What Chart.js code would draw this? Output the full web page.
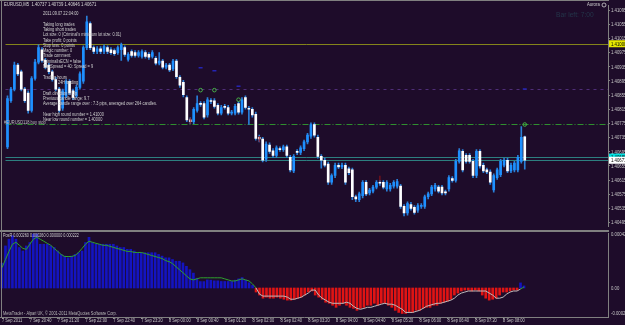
<!DOCTYPE html>
<html>
<head>
<meta charset="utf-8">
<title>EURUSD,M5</title>
<script src="https://cdn.jsdelivr.net/npm/chart.js@4.4.1/dist/chart.umd.min.js"></script>
<style>
  html, body { margin:0; padding:0; background:#1e0c2a; overflow:hidden; }
  #wrap { position:relative; width:625px; height:325px; background:#1e0c2a; }
  canvas { position:absolute; left:0; }
  #mainCanvas { top:0; }
  #indCanvas { top:232px; }
</style>
</head>
<body>
<div id="wrap">
  <canvas id="mainCanvas" width="625" height="232"></canvas>
  <canvas id="indCanvas" width="625" height="93"></canvas>
</div>
<script>
// ---------------- DATA ----------------
const symbolName = 'EURUSD,M5';
const timeTicks = ['7 Sep 2011','7 Sep 20:40','7 Sep 21:20','7 Sep 22:00','7 Sep 22:40','7 Sep 23:20',
  '8 Sep 00:00','8 Sep 00:40','8 Sep 01:20','8 Sep 02:00','8 Sep 02:40','8 Sep 03:20','8 Sep 04:00',
  '8 Sep 04:40','8 Sep 05:20','8 Sep 06:00','8 Sep 06:40','8 Sep 07:20','8 Sep 08:00'];
const barsPerTimeTick = 8;
const priceTicks = [1.41095,1.41055,1.41015,1.40975,1.40935,1.40895,1.40855,1.40815,1.40775,1.40735,
  1.40695,1.40655,1.40615,1.40575,1.40535,1.40495];

const openPrices = [
1.40709,1.40839,1.40872,1.40940,1.40921,1.40872,1.40861,1.40812,1.40902,1.40948,
1.40983,1.40953,1.40940,1.40921,1.40899,1.40872,1.40818,1.40853,1.40894,1.40867,
1.40853,1.40877,1.40894,1.40989,1.41057,1.40989,1.40978,1.40986,1.40978,1.40989,
1.40983,1.40981,1.40975,1.40983,1.40989,1.40956,1.40978,1.40975,1.40967,1.40964,
1.40975,1.40970,1.40964,1.40959,1.40945,1.40951,1.40934,1.40940,1.40929,1.40951,
1.40905,1.40891,1.40848,1.40785,1.40780,1.40812,1.40831,1.40831,1.40799,1.40839,
1.40839,1.40826,1.40804,1.40823,1.40820,1.40804,1.40804,1.40831,1.40807,1.40848,
1.40818,1.40815,1.40801,1.40736,1.40731,1.40674,1.40714,1.40698,1.40685,1.40704,
1.40701,1.40709,1.40679,1.40641,1.40696,1.40693,1.40704,1.40723,1.40739,1.40772,
1.40736,1.40682,1.40671,1.40660,1.40609,1.40628,1.40657,1.40652,1.40657,1.40647,
1.40644,1.40568,1.40560,1.40571,1.40609,1.40579,1.40584,1.40595,1.40609,1.40609,
1.40590,1.40590,1.40598,1.40598,1.40598,1.40541,1.40522,1.40546,1.40538,1.40530,
1.40541,1.40541,1.40568,1.40576,1.40590,1.40595,1.40595,1.40581,1.40590,1.40619,
1.40614,1.40668,1.40696,1.40685,1.40685,1.40668,1.40628,1.40696,1.40657,1.40644,
1.40638,1.40587,1.40622,1.40630,1.40657,1.40671,1.40641,1.40644,1.40644,1.40668,
1.40737];
const highPrices = [
1.40853,1.40877,1.40948,1.40945,1.40926,1.40877,1.40867,1.40907,1.40956,1.40997,
1.40989,1.40959,1.40945,1.40926,1.40905,1.40877,1.40872,1.40899,1.40899,1.40872,
1.40883,1.40921,1.40994,1.41078,1.41062,1.40994,1.40992,1.40992,1.40997,1.40994,
1.40989,1.40986,1.40994,1.41002,1.40994,1.40975,1.40983,1.40981,1.40981,1.40983,
1.40981,1.40975,1.40981,1.40964,1.40975,1.40956,1.40945,1.40945,1.40956,1.40956,
1.40910,1.40897,1.40853,1.40791,1.40820,1.40853,1.40837,1.40837,1.40848,1.40845,
1.40845,1.40831,1.40826,1.40829,1.40826,1.40812,1.40829,1.40837,1.40848,1.40853,
1.40823,1.40820,1.40807,1.40742,1.40736,1.40723,1.40720,1.40704,1.40712,1.40709,
1.40714,1.40714,1.40685,1.40687,1.40701,1.40712,1.40728,1.40747,1.40777,1.40777,
1.40742,1.40687,1.40677,1.40666,1.40633,1.40663,1.40663,1.40663,1.40663,1.40652,
1.40649,1.40573,1.40581,1.40614,1.40614,1.40592,1.40600,1.40614,1.40614,1.40614,
1.40614,1.40606,1.40614,1.40617,1.40603,1.40546,1.40554,1.40552,1.40543,1.40549,
1.40549,1.40573,1.40581,1.40600,1.40606,1.40600,1.40600,1.40587,1.40628,1.40625,
1.40674,1.40704,1.40701,1.40690,1.40690,1.40674,1.40701,1.40701,1.40663,1.40649,
1.40644,1.40633,1.40649,1.40674,1.40677,1.40677,1.40663,1.40668,1.40685,1.40766,
1.40739];
const lowPrices = [
1.40704,1.40834,1.40867,1.40910,1.40867,1.40834,1.40804,1.40807,1.40897,1.40943,
1.40948,1.40929,1.40915,1.40894,1.40867,1.40807,1.40812,1.40848,1.40856,1.40842,
1.40848,1.40872,1.40888,1.40983,1.40983,1.40972,1.40972,1.40972,1.40972,1.40972,
1.40970,1.40967,1.40970,1.40953,1.40964,1.40951,1.40962,1.40962,1.40962,1.40959,
1.40959,1.40956,1.40959,1.40940,1.40940,1.40929,1.40929,1.40921,1.40924,1.40902,
1.40877,1.40850,1.40780,1.40774,1.40774,1.40807,1.40823,1.40788,1.40793,1.40831,
1.40818,1.40799,1.40799,1.40815,1.40799,1.40799,1.40799,1.40801,1.40801,1.40815,
1.40772,1.40793,1.40728,1.40723,1.40666,1.40668,1.40690,1.40679,1.40679,1.40696,
1.40696,1.40679,1.40638,1.40636,1.40687,1.40687,1.40698,1.40717,1.40733,1.40736,
1.40677,1.40649,1.40652,1.40603,1.40603,1.40622,1.40647,1.40647,1.40603,1.40630,
1.40560,1.40554,1.40554,1.40565,1.40571,1.40573,1.40579,1.40590,1.40600,1.40590,
1.40584,1.40584,1.40592,1.40592,1.40535,1.40514,1.40516,1.40530,1.40519,1.40524,
1.40535,1.40535,1.40562,1.40571,1.40584,1.40579,1.40573,1.40573,1.40584,1.40609,
1.40609,1.40663,1.40638,1.40663,1.40663,1.40622,1.40622,1.40649,1.40636,1.40633,
1.40603,1.40581,1.40617,1.40625,1.40652,1.40636,1.40636,1.40638,1.40638,1.40663,
1.40646];
const closePrices = [
1.40845,1.40872,1.40940,1.40915,1.40872,1.40839,1.40812,1.40902,1.40948,1.40989,
1.40953,1.40934,1.40921,1.40899,1.40872,1.40812,1.40867,1.40894,1.40861,1.40848,
1.40877,1.40915,1.40989,1.41062,1.40989,1.40978,1.40986,1.40978,1.40992,1.40978,
1.40975,1.40972,1.40989,1.40997,1.40970,1.40970,1.40967,1.40967,1.40975,1.40978,
1.40964,1.40962,1.40975,1.40945,1.40951,1.40934,1.40940,1.40926,1.40951,1.40907,
1.40883,1.40856,1.40785,1.40780,1.40815,1.40831,1.40829,1.40793,1.40842,1.40837,
1.40823,1.40804,1.40820,1.40820,1.40804,1.40807,1.40823,1.40807,1.40842,1.40820,
1.40815,1.40799,1.40733,1.40731,1.40671,1.40717,1.40696,1.40685,1.40706,1.40701,
1.40709,1.40685,1.40644,1.40682,1.40693,1.40706,1.40723,1.40742,1.40772,1.40742,
1.40682,1.40671,1.40657,1.40609,1.40628,1.40657,1.40652,1.40657,1.40609,1.40636,
1.40568,1.40562,1.40576,1.40609,1.40576,1.40587,1.40595,1.40609,1.40606,1.40595,
1.40609,1.40600,1.40609,1.40611,1.40541,1.40522,1.40549,1.40535,1.40524,1.40543,
1.40543,1.40568,1.40576,1.40595,1.40600,1.40584,1.40579,1.40579,1.40622,1.40614,
1.40668,1.40698,1.40644,1.40668,1.40668,1.40628,1.40696,1.40655,1.40641,1.40638,
1.40609,1.40628,1.40644,1.40668,1.40671,1.40641,1.40657,1.40663,1.40679,1.40736,
1.40671];

// indicator pane (PosR): histogram and its signal line
const histValues = [
0.00019,0.000322,0.000374,0.0004,0.000374,0.00031,0.000283,0.000322,0.000348,0.000413,
0.000413,0.000335,0.000335,0.000335,0.000322,0.00031,0.000283,0.000257,0.000244,0.000231,
0.000244,0.000257,0.00027,0.000283,0.000348,0.000388,0.000348,0.000335,0.000335,0.000335,
0.000335,0.000335,0.000335,0.000322,0.00031,0.00031,0.000296,0.000296,0.000283,0.00027,
0.00027,0.00027,0.00027,0.00027,0.00027,0.000257,0.000244,0.000231,0.000231,0.000218,
0.000205,0.000205,0.000192,0.000166,0.00014,0.000114,0.000075,0.000049,0.000049,0.000062,
0.00006,0.000055,0.000055,0.00005,0.00005,0.00005,0.00005,0.00006,0.00007,0.00008,
0.00006,0.00004,0.00002,-0.000031,-0.000054,-0.000078,-0.00007,-0.000078,-0.000078,-0.00007,
-0.000078,-0.000086,-0.000093,-0.000093,-0.000086,-0.000078,-0.00007,-0.000054,-0.000031,-0.000023,
-0.000054,-0.00007,-0.000086,-0.000109,-0.000117,-0.000132,-0.000148,-0.000132,-0.000117,-0.000132,
-0.000148,-0.000156,-0.000171,-0.000156,-0.000148,-0.000132,-0.000132,-0.000117,-0.000132,-0.000117,
-0.000117,-0.000132,-0.000148,-0.000171,-0.000187,-0.000195,-0.000195,-0.000187,-0.000187,-0.000171,
-0.000171,-0.000156,-0.000148,-0.000148,-0.000132,-0.000132,-0.000117,-0.000109,-0.000101,-0.000086,
-0.000054,-0.000039,-0.000023,-0.000016,-0.000016,-0.000023,-0.000016,-0.000023,-0.000054,-0.000078,
-0.000093,-0.000086,-0.000078,-0.000054,-0.000031,-0.000031,-0.000023,-0.000016,-0.000016,0.000039,
0.000016];
const signalLine = [
0.000156,0.000218,0.00028,0.000335,0.00035,0.000327,0.000303,0.000296,0.000335,0.000373,
0.000389,0.000373,0.000358,0.000342,0.000327,0.000303,0.00028,0.000257,0.000241,0.000241,
0.000241,0.000249,0.000272,0.000303,0.000335,0.000358,0.00035,0.000342,0.000335,0.000327,
0.000327,0.000319,0.000311,0.000303,0.000296,0.000288,0.00028,0.00028,0.000272,0.000272,
0.000272,0.000265,0.000257,0.000249,0.000241,0.000233,0.000226,0.00021,0.000202,0.000187,
0.000163,0.00014,0.000117,0.000093,0.00007,0.000062,0.00007,0.000078,0.000078,0.000078,
0.000078,0.000078,0.000078,0.000078,0.00007,0.000062,0.000054,0.000054,0.000062,0.00007,
0.000062,0.000054,0.000031,0,-0.000047,-0.000062,-0.000062,-0.000062,-0.000062,-0.000062,
-0.000062,-0.000062,-0.00007,-0.000086,-0.000086,-0.000078,-0.00007,-0.000054,-0.000039,-0.000016,
-0.000016,-0.000054,-0.000078,-0.000093,-0.000109,-0.000117,-0.000117,-0.000117,-0.000117,-0.000109,
-0.000117,-0.00014,-0.000156,-0.000163,-0.000156,-0.000148,-0.000148,-0.00014,-0.000132,-0.000124,
-0.000117,-0.000124,-0.000124,-0.000132,-0.000148,-0.000163,-0.000187,-0.000187,-0.000187,-0.000179,
-0.000171,-0.000156,-0.00014,-0.000132,-0.000124,-0.000117,-0.000117,-0.000109,-0.000101,-0.000093,
-0.000078,-0.000054,-0.000039,-0.000031,-0.000023,-0.000023,-0.000023,-0.000023,-0.000023,-0.000023,
-0.000039,-0.000054,-0.000078,-0.000078,-0.00007,-0.000047,-0.000031,-0.000023,-0.000023,-0.000008,
0.000008];
const indicatorName = 'PosR';
const indicatorReadout = ['0.000260','0.000260','0.000000','0.000222'];
const indicatorTicks = [0.000421, 0, -0.000222];

// horizontal levels and chart objects
const roundHigh = 1.41000;
const roundLow = 1.40000;
const purpleLevel = 1.40872;
const buyStopLevel = 1.40772;
const askPrice = 1.40680;
const bidPrice = 1.40671;
const greenMarkIdx = [56, 60, 67, 150];
const greenMarkPrice = [1.40869, 1.40869, 1.40842, 1.40772];
const blueDashIdx = [56, 60, 67, 150];
const blueDashPrice = [1.40932, 1.40924, 1.40880, 1.40872];
const redArrowIdx = [53, 73, 108];
const redArrowPrice = [1.40782, 1.40731, 1.40619];

const commentLines = [
  '2011.09.07 22:04:00',
  'Taking long trades',
  'Taking short trades',
  "Lot size: 0 (Criminal's minimum lot size: 0.01)",
  'Take profit: 0 points',
  'Stop loss: 0 points',
  'Magic number: 0',
  'Trade comment: ',
  'CriminalIsECN = false',
  'MaxSpread = 40: Spread = 9',
  '',
  'Trading hours',
  '24H trading',
  '',
  'Draft direction is Up',
  'Previous candle range: 9.7',
  'Average candle range over : 7.3 pips, averaged over 264 candles.',
  '',
  'Near high round number = ' + roundHigh.toFixed(5),
  'Near low round number = ' + roundLow.toFixed(5)
];

// ---------------- RENDER ----------------
const BG = '#1e0c2a';
const FRAME = '#808080';
const TXT = '#c8c8c8';
const FONT = '"Liberation Sans", Arial, sans-serif';
const PRICE_MAX = 1.41108, PRICE_MIN = 1.40484;
const X_MIN = -0.575, X_MAX = 174.14;

function drawText(ctx, s, x, y, color, size, sx, family) {
  ctx.save();
  ctx.font = size + 'px ' + (family || FONT);
  ctx.fillStyle = color;
  ctx.textBaseline = 'middle';
  ctx.textAlign = 'left';
  ctx.translate(x, y);
  ctx.scale(sx, 1);
  ctx.fillText(s, 0, 0);
  ctx.restore();
}

const idx = openPrices.map((_, i) => i);
const last = openPrices.length - 1;

const mainDecor = {
  id: 'mainDecor',
  beforeDraw(chart) {
    const c = chart.ctx;
    c.save(); c.fillStyle = BG; c.fillRect(0, 0, chart.width, chart.height); c.restore();
  },
  beforeDatasetsDraw(chart) {
    const c = chart.ctx, a = chart.chartArea, y = chart.scales.y;
    const hline = (v, color, dash) => {
      const py = Math.round(y.getPixelForValue(v)) + 0.5;
      c.save(); c.strokeStyle = color; c.lineWidth = 1; c.setLineDash(dash || []);
      c.beginPath(); c.moveTo(a.left, py); c.lineTo(a.right, py); c.stroke(); c.restore();
    };
    hline(roundHigh, '#84841a');
    hline(purpleLevel, '#4f2d78', [3, 4]);
    hline(buyStopLevel, '#2f8f2f', [6, 2, 1, 2]);
    hline(askPrice, '#2d7f80');
    hline(bidPrice, '#2d7f80');
  },
  afterDraw(chart) {
    const c = chart.ctx, y = chart.scales.y;
    // frame
    c.save(); c.fillStyle = FRAME;
    c.fillRect(0, 0, 609, 1);
    c.fillRect(1, 0, 1, 232);
    c.fillRect(0, 230, 609, 2);
    c.restore();
    // price labels
    priceTicks.forEach(v => drawText(c, v.toFixed(5), 611, y.getPixelForValue(v) + 0.5, TXT, 5, 0.85));
    const tag = (v, bg) => {
      const py = y.getPixelForValue(v);
      c.save(); c.fillStyle = bg; c.fillRect(609, py - 3.5, 16, 7); c.restore();
      drawText(c, v.toFixed(5), 611, py + 0.5, '#000000', 5, 0.85);
    };
    tag(roundHigh, '#e6e600');
    tag(askPrice, '#00e1e1');
    tag(bidPrice, '#ffffff');
    // header
    const hdr = symbolName + '  ' + [openPrices[last], highPrices[last], lowPrices[last], closePrices[last]].map(v => v.toFixed(5)).join(' ');
    drawText(c, hdr, 4, 5, '#d8d8d8', 5, 0.85);
    // EA comment
    commentLines.forEach((s, k) => {
      if (!s) return;
      const x = s === '24H trading' ? 58 : 43;
      const yy = k === 0 ? 14 : 24.3 + (k - 1) * 5.3;
      drawText(c, s, x, yy, '#d0d0d0', 5, 0.78);
    });
    drawText(c, '#EURUSD118 buy stop', 4, 122.5, '#bdbdbd', 5, 0.8);
    // top-right
    drawText(c, 'Aurora', 587, 5, '#d0d0d0', 5, 0.85);
    c.save(); c.strokeStyle = '#d0d0d0'; c.lineWidth = 0.8; c.beginPath(); c.arc(604, 5, 2, 0, Math.PI * 2); c.stroke(); c.restore();
    drawText(c, 'Bar left: 7:00', 556, 15, '#24364a', 7, 0.95);
  }
};

new Chart(document.getElementById('mainCanvas'), {
  type: 'bar',
  data: {
    datasets: [
      { label: 'range', data: idx.map(i => ({ x: i, y: [lowPrices[i], highPrices[i]] })),
        backgroundColor: '#2a7fd8', barThickness: 1, minBarLength: 1, order: 3 },
      { label: 'body', data: idx.map(i => ({ x: i, y: [openPrices[i], closePrices[i]] })),
        backgroundColor: ctx => closePrices[ctx.dataIndex] >= openPrices[ctx.dataIndex] ? '#1e90ff' : '#ffffff',
        barThickness: 2, minBarLength: 1, order: 2 },
      { type: 'scatter', data: greenMarkIdx.map((v, k) => ({ x: v, y: greenMarkPrice[k] })),
        pointStyle: 'circle', pointRadius: 1.8, borderColor: '#46b046', backgroundColor: 'rgba(0,0,0,0)', borderWidth: 1, order: 1 },
      { type: 'scatter', data: blueDashIdx.map((v, k) => ({ x: v, y: blueDashPrice[k] })),
        pointStyle: 'line', pointRadius: 2, borderColor: '#2424b4', borderWidth: 1.5, order: 1 },
      { type: 'scatter', data: redArrowIdx.map((v, k) => ({ x: v, y: redArrowPrice[k] })),
        pointStyle: 'line', pointRotation: 90, pointRadius: 3, borderColor: '#9a1414', borderWidth: 1, order: 1 }
    ]
  },
  options: {
    responsive: false, animation: false, events: [],
    layout: { padding: { top: 1, bottom: 1, left: 0, right: 0 } },
    plugins: { legend: { display: false }, tooltip: { enabled: false } },
    datasets: { bar: { grouped: false } },
    scales: {
      x: { type: 'linear', min: X_MIN, max: X_MAX, display: false, offset: false, grid: { offset: false } },
      y: {
        position: 'right', min: PRICE_MIN, max: PRICE_MAX, beginAtZero: false,
        afterBuildTicks: s => { s.ticks = priceTicks.map(v => ({ value: v })); },
        afterFit: s => { s.width = 17; s.paddingTop = 0; s.paddingBottom = 0; },
        ticks: { display: false },
        grid: { drawOnChartArea: false, drawTicks: true, tickLength: 2, color: FRAME },
        border: { display: true, color: FRAME }
      }
    }
  },
  plugins: [mainDecor]
});

const IND_MAX = indicatorTicks[0], IND_MIN = indicatorTicks[2];
const indDecor = {
  id: 'indDecor',
  beforeDraw(chart) {
    const c = chart.ctx;
    c.save(); c.fillStyle = BG; c.fillRect(0, 0, chart.width, chart.height); c.restore();
  },
  afterDraw(chart) {
    const c = chart.ctx, y = chart.scales.y, x = chart.scales.x;
    c.save(); c.fillStyle = FRAME; c.fillRect(1, 0, 1, 86); c.restore();
    drawText(c, indicatorTicks[0].toFixed(6), 611, 3, TXT, 5, 0.85);
    drawText(c, indicatorTicks[1].toFixed(2), 611, y.getPixelForValue(0) + 0.5, TXT, 5, 0.85);
    drawText(c, indicatorTicks[2].toFixed(6), 611, 82, TXT, 5, 0.85);
    drawText(c, indicatorName + ' ' + indicatorReadout.join(' '), 3, 3.5, '#d0d0d0', 5, 0.75);
    drawText(c, 'MetaTrader - Alpari UK, \u00a9 2001-2011 MetaQuotes Software Corp.', 3, 82, '#b8b8b8', 5, 0.78);
    timeTicks.forEach((t, k) => drawText(c, t, x.getPixelForValue(k * barsPerTimeTick), 89, TXT, 5, 0.8));
  }
};

new Chart(document.getElementById('indCanvas'), {
  type: 'bar',
  data: {
    datasets: [
      { type: 'line', data: idx.map(i => ({ x: i, y: signalLine[i] })), borderWidth: 1, pointRadius: 0, tension: 0,
        borderColor: '#2ea02e',
        segment: { borderColor: ctx => ctx.p1.parsed.y >= 0 ? '#2ea02e' : '#bcbcbc' }, order: 1 },
      { data: idx.map(i => ({ x: i, y: histValues[i] })),
        backgroundColor: ctx => histValues[ctx.dataIndex] >= 0 ? '#1414c0' : '#e01414',
        barThickness: 2, order: 2 }
    ]
  },
  options: {
    responsive: false, animation: false, events: [],
    layout: { padding: { top: 1, bottom: 0, left: 0, right: 0 } },
    plugins: { legend: { display: false }, tooltip: { enabled: false } },
    scales: {
      x: {
        type: 'linear', min: X_MIN, max: X_MAX, offset: false,
        afterBuildTicks: s => { s.ticks = timeTicks.map((t, k) => ({ value: k * barsPerTimeTick })); },
        afterFit: s => { s.height = 8; s.paddingLeft = 0; s.paddingRight = 0; },
        ticks: { display: false },
        grid: { offset: false, drawOnChartArea: false, drawTicks: true, tickLength: 2, color: FRAME },
        border: { display: true, color: FRAME }
      },
      y: {
        position: 'right', min: IND_MIN, max: IND_MAX, beginAtZero: false,
        afterFit: s => { s.width = 17; s.paddingTop = 0; s.paddingBottom = 0; },
        ticks: { display: false },
        grid: { display: false },
        border: { display: true, color: FRAME }
      }
    }
  },
  plugins: [indDecor]
});
</script>
</body>
</html>
